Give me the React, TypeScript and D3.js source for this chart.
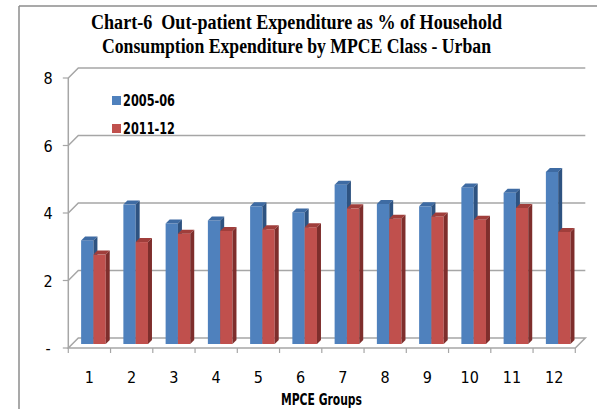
import React from "react";
import * as d3 from "d3";

const categories = ["1", "2", "3", "4", "5", "6", "7", "8", "9", "10", "11", "12"];
const series2005 = [3.07, 4.13, 3.57, 3.66, 4.08, 3.9, 4.72, 4.15, 4.08, 4.64, 4.48, 5.1];
const series2011 = [2.65, 3.02, 3.27, 3.35, 3.4, 3.46, 4.02, 3.71, 3.78, 3.68, 4.03, 3.32];
const seriesNames = ["2005-06", "2011-12"];
const yTicks = [0, 2, 4, 6, 8];
const yTickLabels = ["-", "2", "4", "6", "8"];
const titleLines = [
  "Chart-6\u00A0 Out-patient Expenditure as % of Household",
  "Consumption Expenditure by MPCE Class - Urban",
];
const xTitle = "MPCE Groups";

const W = 597;
const H = 409;
const DEPTH = 10; // wall depth offset
const BAR_OFF = 4; // bar front offset from front plane
const BAR_D = 4; // bar depth

const colors = [
  { face: "#4F81BD", top: "#3E6BA3", side: "#2E5381" },
  { face: "#C0504D", top: "#A03E3B", side: "#7E2E2C" },
];

const narrow = "'Liberation Sans Narrow','DejaVu Sans Condensed','Arial Narrow',sans-serif";
const serif = "'Liberation Serif','DejaVu Serif',serif";

export default function App() {
  const x = d3.scaleBand<string>().domain(categories).range([68.3, 575.3]).padding(0);
  const yF = d3.scaleLinear().domain([0, 8]).range([348, 78]);
  const yBar = d3.scaleLinear().domain([0, 8]).range([348 - BAR_OFF, 78 - BAR_OFF]);
  const x0 = x.range()[0];
  const x1 = x.range()[1];
  const bw = x.bandwidth();
  const barW = 12.3;
  const gap = (bw - 2 * barW) / 2;
  const series = [series2005, series2011];
  const grid = "#A6A6A6";

  const bars: React.ReactNode[] = [];
  categories.forEach((c, i) => {
    series.forEach((vals, s) => {
      const bx = (x(c) as number) + BAR_OFF + gap + s * barW;
      const yb = yBar(0);
      const yt = yBar(vals[i]);
      const col = colors[s];
      const d = BAR_D;
      bars.push(
        <g key={`${c}-${s}`}>
          <rect x={bx} y={yt} width={barW} height={yb - yt} fill={col.face} />
          <polygon
            points={`${bx},${yt} ${bx + barW},${yt} ${bx + barW + d},${yt - d} ${bx + d},${yt - d}`}
            fill={col.top}
          />
          <polygon
            points={`${bx + barW},${yt} ${bx + barW + d},${yt - d} ${bx + barW + d},${yb - d} ${bx + barW},${yb}`}
            fill={col.side}
          />
        </g>
      );
    });
  });

  return (
    <svg width={W} height={H} style={{ position: "absolute", left: 0, top: 0 }}>
      <rect x={0} y={0} width={W} height={H} fill="#fff" />
      {/* outer frame */}
      <line x1={19} y1={6} x2={W} y2={6} stroke="#8C8C8C" strokeWidth={1.5} />
      <line x1={19} y1={6} x2={19} y2={H} stroke="#8C8C8C" strokeWidth={1.5} />

      {/* title */}
      {titleLines.map((t, i) => (
        <text
          key={i}
          x={i === 0 ? 91 : 102}
          y={i === 0 ? 29 : 53}
          textLength={i === 0 ? 411 : 389}
          lengthAdjust="spacingAndGlyphs"
          fontFamily={serif}
          fontWeight="bold"
          fontSize={20}
          fill="#000"
        >
          {t}
        </text>
      ))}

      {/* back wall gridlines */}
      {yTicks.map((v) =>
        v === 0 ? null : (
          <polyline
            key={v}
            points={`${x0},${yF(v)} ${x0 + DEPTH},${yF(v) - DEPTH} ${x1 + DEPTH},${yF(v) - DEPTH}`}
            fill="none"
            stroke={grid}
            strokeWidth={1.5}
          />
        )
      )}
      {/* floor */}
      <polygon
        points={`${x0},${yF(0)} ${x0 + DEPTH},${yF(0) - DEPTH} ${x1 + DEPTH},${yF(0) - DEPTH} ${x1},${yF(0)}`}
        fill="none"
        stroke={grid}
        strokeWidth={1.5}
      />
      {/* y axis line */}
      <line x1={x0} y1={yF(8)} x2={x0} y2={yF(0)} stroke={grid} strokeWidth={1.5} />
      {yTicks.map((v) => (
        <line key={v} x1={x0 - 5.5} y1={yF(v)} x2={x0} y2={yF(v)} stroke={grid} strokeWidth={1.2} />
      ))}
      {/* x ticks */}
      {[...categories.map((c) => x(c) as number), x1].map((tx, i) => (
        <line key={i} x1={tx} y1={yF(0)} x2={tx} y2={yF(0) + 5} stroke={grid} strokeWidth={1.2} />
      ))}

      {bars}

      {/* y labels */}
      {yTicks.map((v, i) => (
        <text
          key={v}
          x={48}
          y={yF(v) + 6}
          textAnchor="middle"
          fontFamily={narrow}
          fontSize={16}
          fill="#000"
        >
          {yTickLabels[i]}
        </text>
      ))}
      {/* x labels */}
      {categories.map((c) => (
        <text
          key={c}
          x={(x(c) as number) + bw / 2}
          y={383}
          textAnchor="middle"
          fontFamily={narrow}
          fontSize={16}
          fill="#000"
        >
          {c}
        </text>
      ))}
      <text
        x={281}
        y={405}
        textLength={81}
        lengthAdjust="spacingAndGlyphs"
        fontFamily={narrow}
        fontWeight="bold"
        fontSize={16}
        fill="#000"
      >
        {xTitle}
      </text>

      {/* legend */}
      {seriesNames.map((n, i) => (
        <g key={n}>
          <rect x={112} y={96 + i * 28} width={9} height={9} fill={colors[i].face} />
          <text
            x={123}
            y={106 + i * 28}
            textLength={52}
            lengthAdjust="spacingAndGlyphs"
            fontFamily={narrow}
            fontWeight="bold"
            fontSize={15}
            fill="#000"
          >
            {n}
          </text>
        </g>
      ))}
    </svg>
  );
}
